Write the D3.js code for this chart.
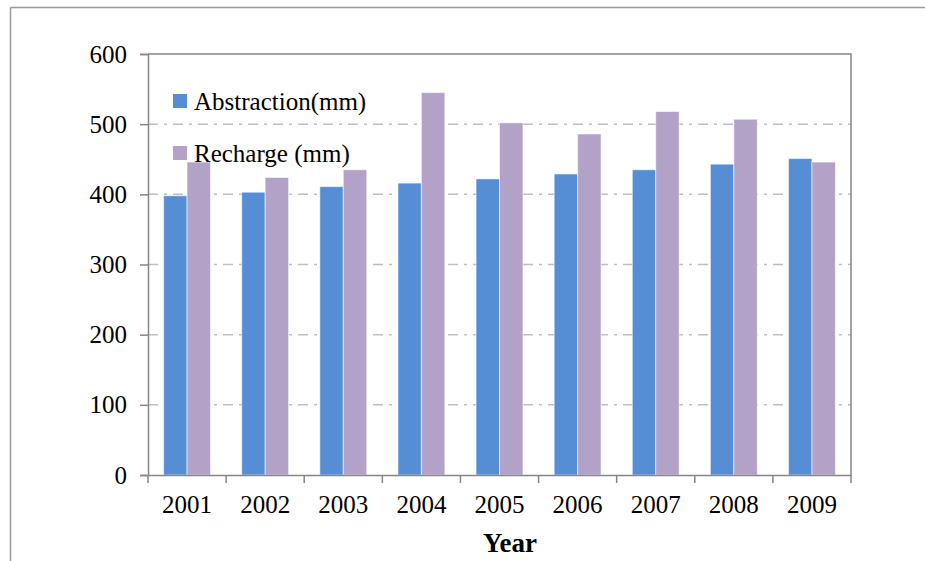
<!DOCTYPE html>
<html>
<head>
<meta charset="utf-8">
<script src="https://cdn.jsdelivr.net/npm/d3@7/dist/d3.min.js"></script>
<style>
  html, body { margin: 0; padding: 0; background: #fff; }
  svg { display: block; }
  text { font-family: "Liberation Serif", "Times New Roman", serif; fill: #000; }
</style>
</head>
<body>
<svg id="chart" width="925" height="561"></svg>
<script>
// Annual groundwater abstraction vs. recharge, mm
const years = ["2001", "2002", "2003", "2004", "2005", "2006", "2007", "2008", "2009"];
const abstraction = [398, 403, 411, 416, 422, 429, 435, 443, 451];
const recharge = [446, 424, 435, 545, 502, 486, 518, 507, 446];
const seriesNames = ["Abstraction(mm)", "Recharge (mm)"];
const yTicks = [0, 100, 200, 300, 400, 500, 600];

const colors = ["#558ED5", "#B3A2C7"];
const svg = d3.select("#chart");

// outer frame (top and left edges)
svg.append("line").attr("x1", 10.5).attr("x2", 925).attr("y1", 7.5).attr("y2", 7.5)
  .attr("stroke", "#999").attr("stroke-width", 1.5);
svg.append("line").attr("x1", 10.5).attr("x2", 10.5).attr("y1", 7.5).attr("y2", 561)
  .attr("stroke", "#999").attr("stroke-width", 1.5);

const plot = { left: 148, right: 851, top: 54, bottom: 475 };

const x = d3.scaleBand().domain(years).range([plot.left, plot.right]).paddingInner(0).paddingOuter(0);
const y = d3.scaleLinear().domain([0, 600]).range([plot.bottom, plot.top]);
// the two bars of a year fill the middle 60% of its category
const inner = d3.scaleBand().domain([0, 1])
  .range([x.bandwidth() * 0.2, x.bandwidth() * 0.8]).paddingInner(0).paddingOuter(0);

// gridlines
svg.append("g").selectAll("line").data(yTicks.filter(t => t > 0 && t < 600)).join("line")
  .attr("x1", plot.left).attr("x2", plot.right)
  .attr("y1", d => y(d)).attr("y2", d => y(d))
  .attr("stroke", "#BFBFBF").attr("stroke-width", 1.5)
  .attr("stroke-dasharray", "10,6,3,6");

// bars
const data = years.map((yr, i) => ({ yr, vals: [abstraction[i], recharge[i]] }));
const groups = svg.append("g").selectAll("g").data(data).join("g")
  .attr("transform", d => `translate(${x(d.yr)},0)`);
groups.selectAll("rect").data(d => d.vals.map((v, k) => ({ v, k }))).join("rect")
  .attr("x", d => inner(d.k))
  .attr("width", inner.bandwidth())
  .attr("y", d => y(d.v))
  .attr("height", d => y(0) - y(d.v))
  .attr("fill", d => colors[d.k])
  .attr("stroke", "rgba(255,255,255,0.55)")
  .attr("stroke-width", 1);

// plot border (top, right)
svg.append("path")
  .attr("d", `M${plot.left},${plot.top}H${plot.right}V${plot.bottom}`)
  .attr("fill", "none").attr("stroke", "#868686").attr("stroke-width", 1.5);

// y axis
const yAxis = svg.append("g").attr("transform", `translate(${plot.left},0)`)
  .call(d3.axisLeft(y).tickValues(yTicks).tickSize(8).tickPadding(13).tickFormat(d3.format("d")));
yAxis.select(".domain").attr("stroke", "#868686").attr("stroke-width", 1.5);
yAxis.selectAll(".tick line").attr("stroke", "#868686").attr("stroke-width", 1.5);
yAxis.selectAll("text").attr("font-size", 25).attr("font-family", "Liberation Serif").attr("fill", "#000");

// x axis: ticks at category boundaries
const xAxis = svg.append("g").attr("transform", `translate(0,${plot.bottom})`)
  .call(d3.axisBottom(x).tickSize(0).tickPadding(20));
xAxis.select(".domain").attr("stroke", "#868686").attr("stroke-width", 1.5);
xAxis.selectAll("text").attr("font-size", 25).attr("font-family", "Liberation Serif").attr("fill", "#000");
const bounds = years.map(yr => x(yr)).concat([x(years[years.length - 1]) + x.bandwidth()]);
xAxis.append("g").selectAll("line").data(bounds).join("line")
  .attr("x1", d => d).attr("x2", d => d).attr("y1", 0).attr("y2", 8)
  .attr("stroke", "#868686").attr("stroke-width", 1.5);

// axis title
svg.append("text").attr("x", 510).attr("y", 552).attr("text-anchor", "middle")
  .attr("font-size", 27).attr("font-weight", "bold").text("Year");

// legend
const legend = svg.append("g").selectAll("g").data(seriesNames).join("g")
  .attr("transform", (d, i) => `translate(173,${94 + i * 52})`);
legend.append("rect").attr("width", 14).attr("height", 14).attr("fill", (d, i) => colors[i]);
legend.append("text").attr("x", 21).attr("y", 16).attr("font-size", 25)
  .attr("letter-spacing", 0).text(d => d);
</script>
</body>
</html>
